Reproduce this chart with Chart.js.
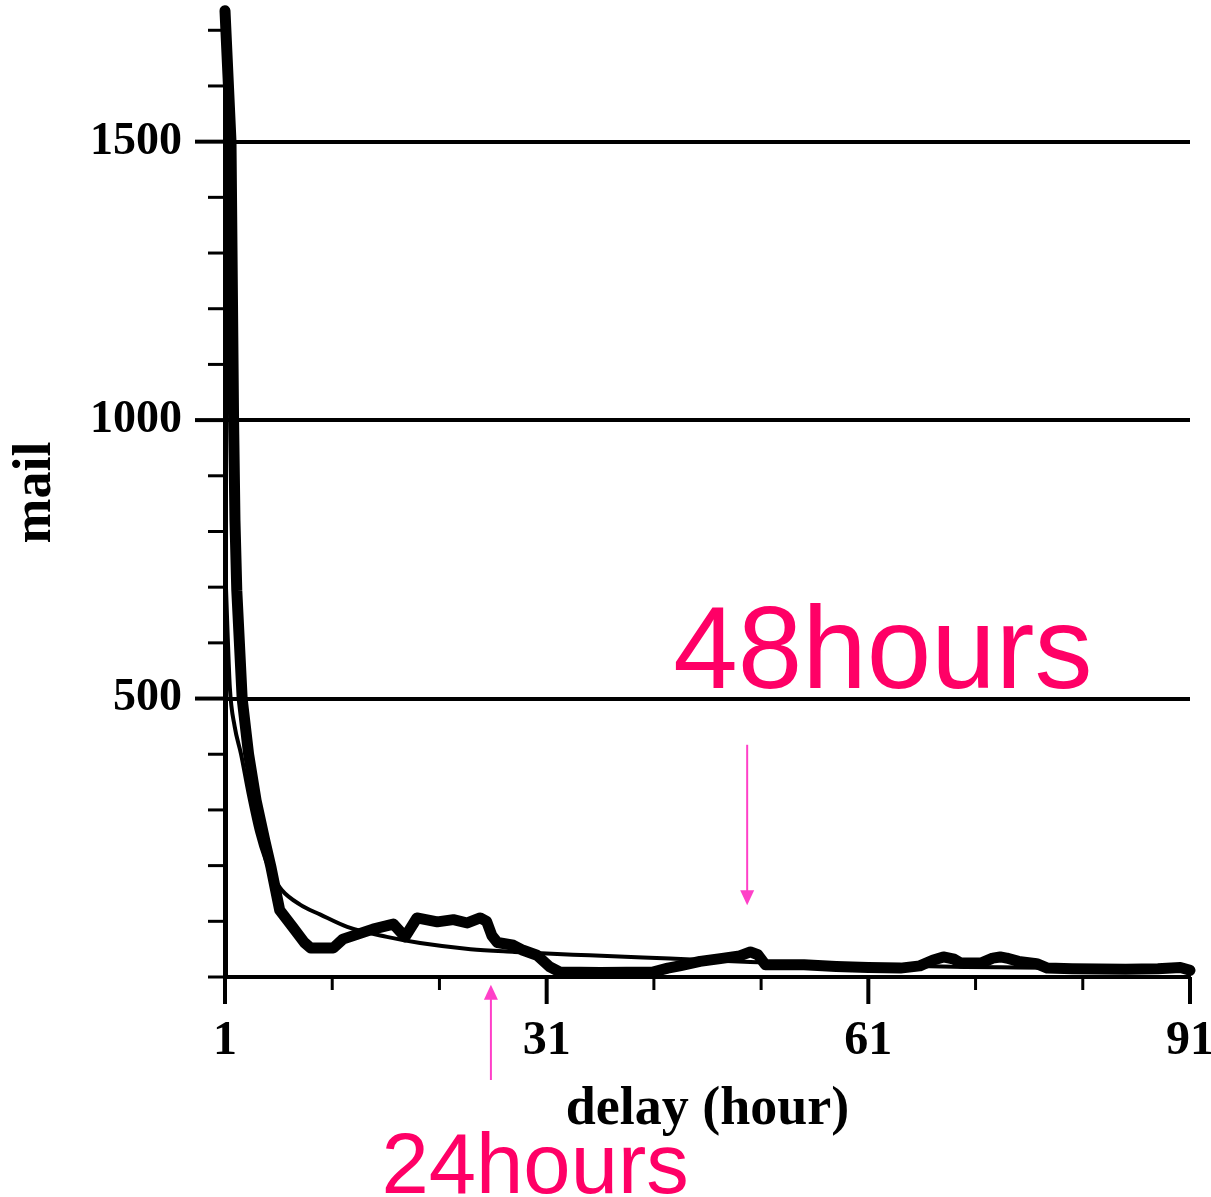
<!DOCTYPE html>
<html>
<head>
<meta charset="utf-8">
<script src="https://cdn.jsdelivr.net/npm/chart.js@4.4.1/dist/chart.umd.min.js"></script>
<style>
  html, body { margin: 0; padding: 0; background: #ffffff; }
  #wrap { width: 1211px; height: 1197px; }
</style>
</head>
<body>
<div id="wrap"><canvas id="c" width="1211" height="1197"></canvas></div>
<script>
// ---- data ----
// measured mail counts (thick line)
const measuredHours = [1, 1.56, 1.8, 1.93, 2.1, 2.6, 3.2, 3.9, 4.7, 5.3, 6.1, 7.3, 8.4, 9, 11.1, 12, 14.8, 16.7, 17.8, 18.9, 20.8, 22.3, 23.6, 24.8, 25.4, 25.9, 26.4, 27.9, 28.8, 30.1, 31.3, 32.2, 36, 40.9, 42.3, 43.4, 45.3, 47.2, 49, 50, 50.7, 51.4, 55, 58, 61, 64, 65.8, 67, 68, 69, 69.6, 71.5, 72.6, 73.3, 73.9, 75, 76.7, 77.7, 80, 85, 88, 90.1, 91];
const measuredMail  = [1735, 1500, 1000, 820, 694, 500, 400, 317, 246, 196, 120, 90, 62, 52, 52, 68, 86, 95, 72, 106, 99, 103, 97, 106, 100, 74, 62, 57, 48, 39, 18, 9, 8, 9, 16, 20, 28, 33, 38, 45, 40, 22, 22, 19, 17, 16, 20, 30, 36, 32, 25, 25, 34, 36, 34, 28, 24, 16, 15, 14, 15, 17, 12];
// fitted curve (thin line)
const fitHours = [1, 1.2, 1.45, 1.9, 2.5, 3.2, 4, 4.8, 5.5, 6.3, 8, 9.9, 12.4, 16.1, 19.2, 23.9, 28, 31, 35, 40, 45, 50, 55, 60, 65, 70, 75, 80, 85, 91];
const fitMail  = [750, 640, 520, 450, 400, 330, 260, 210, 180, 156, 130, 112, 90, 72, 61, 50, 45, 42, 39, 35, 31, 27, 24, 22, 20, 18, 17, 16, 15, 14];
// axis tick labels
const xTickLabels = [1, 31, 61, 91];
const yTickLabels = [500, 1000, 1500];
// annotations
const annotationTexts = ['48hours', '24hours'];
const annotationHours = [49.7, 25.8];

const toPoints = (xs, ys) => xs.map((h, i) => ({ x: h, y: ys[i] }));

const SERIF = '"Liberation Serif", "DejaVu Serif", serif';
const SANS = '"Liberation Sans", Arial, sans-serif';
const PINK_TEXT = '#ff0066';
const PINK_ARROW = '#ff40c8';

const zeroPad = s => { s.paddingTop = 0; s.paddingBottom = 0; s.paddingLeft = 0; s.paddingRight = 0; };

const decorations = {
  id: 'decorations',
  afterDraw(chart) {
    const { ctx, chartArea, scales } = chart;
    const xs = scales.x, ys = scales.y;
    ctx.save();
    ctx.strokeStyle = '#000';
    ctx.lineCap = 'butt';
    // y-axis tick marks (outside, to the left)
    ys.ticks.forEach(t => {
      const py = ys.getPixelForValue(t.value);
      const major = yTickLabels.includes(t.value);
      ctx.lineWidth = major ? 4 : 3;
      ctx.beginPath();
      ctx.moveTo(chartArea.left - (major ? 30 : 17), py);
      ctx.lineTo(chartArea.left, py);
      ctx.stroke();
    });
    // x-axis tick marks (downwards)
    xs.ticks.forEach(t => {
      const px = xs.getPixelForValue(t.value);
      const major = xTickLabels.includes(t.value);
      ctx.lineWidth = major ? 4 : 3;
      ctx.beginPath();
      ctx.moveTo(px, chartArea.bottom);
      ctx.lineTo(px, chartArea.bottom + (major ? 27 : 13));
      ctx.stroke();
    });

    // annotation arrows
    const drawArrow = (x, yFrom, yTo) => {
      ctx.strokeStyle = PINK_ARROW;
      ctx.fillStyle = PINK_ARROW;
      ctx.lineWidth = 2;
      const dir = yTo > yFrom ? 1 : -1;
      ctx.beginPath();
      ctx.moveTo(x, yFrom);
      ctx.lineTo(x, yTo - dir * 14);
      ctx.stroke();
      ctx.beginPath();
      ctx.moveTo(x, yTo);
      ctx.lineTo(x - 7, yTo - dir * 15);
      ctx.lineTo(x + 7, yTo - dir * 15);
      ctx.closePath();
      ctx.fill();
    };
    const x48 = xs.getPixelForValue(annotationHours[0]);
    drawArrow(x48, ys.getPixelForValue(417), ys.getPixelForValue(129));
    const x24 = xs.getPixelForValue(annotationHours[1]);
    drawArrow(x24, ys.getPixelForValue(-185), ys.getPixelForValue(-14));

    ctx.fillStyle = PINK_TEXT;
    ctx.textAlign = 'left';
    ctx.textBaseline = 'alphabetic';
    ctx.font = '116px ' + SANS;
    ctx.fillText(annotationTexts[0], xs.getPixelForValue(42.8), ys.getPixelForValue(519));
    ctx.font = '85px ' + SANS;
    ctx.fillText(annotationTexts[1], xs.getPixelForValue(15.6), ys.getPixelForValue(-388));
    ctx.restore();
  }
};

new Chart(document.getElementById('c'), {
  type: 'line',
  data: {
    datasets: [
      {
        label: 'measured',
        data: toPoints(measuredHours, measuredMail),
        borderColor: '#000',
        borderWidth: 11,
        borderJoinStyle: 'round',
        borderCapStyle: 'round',
        pointRadius: 0,
        tension: 0,
        clip: false
      },
      {
        label: 'fit',
        data: toPoints(fitHours, fitMail),
        borderColor: '#000',
        borderWidth: 4,
        pointRadius: 0,
        cubicInterpolationMode: 'monotone',
        clip: false
      }
    ]
  },
  options: {
    responsive: false,
    animation: false,
    devicePixelRatio: 1,
    layout: { padding: { top: 8, right: 21, left: 0, bottom: 0 } },
    plugins: { legend: { display: false }, tooltip: { enabled: false } },
    scales: {
      x: {
        type: 'linear',
        min: 1,
        max: 91,
        afterFit: s => { s.height = 220; zeroPad(s); },
        ticks: {
          stepSize: 10,
          autoSkip: false,
          maxRotation: 0,
          padding: 36,
          color: '#000',
          font: { family: SERIF, size: 48, weight: 'bold' },
          callback: v => xTickLabels.includes(v) ? String(v) : ''
        },
        grid: { display: true, drawOnChartArea: false, drawTicks: false, color: 'transparent' },
        border: { display: true, color: '#000', width: 4 },
        title: {
          display: true,
          text: 'delay (hour)',
          color: '#000',
          font: { family: SERIF, size: 54, weight: 'bold' },
          padding: { top: 0, bottom: 55 }
        }
      },
      y: {
        type: 'linear',
        min: 0,
        max: 1740,
        afterFit: s => { s.width = 225; zeroPad(s); },
        ticks: {
          stepSize: 100,
          includeBounds: false,
          autoSkip: false,
          padding: 43,
          color: '#000',
          font: { family: SERIF, size: 46, weight: 'bold' },
          callback: v => yTickLabels.includes(v) ? String(v) : ''
        },
        grid: {
          drawTicks: false,
          color: ctx => (ctx.tick && yTickLabels.includes(ctx.tick.value)) ? '#000' : 'transparent',
          lineWidth: 4
        },
        border: { display: true, color: '#000', width: 5 },
        title: {
          display: true,
          text: 'mail',
          color: '#000',
          font: { family: SERIF, size: 54, weight: 'bold' },
          padding: { top: 4, bottom: 0 }
        }
      }
    }
  },
  plugins: [decorations]
});
</script>
</body>
</html>
